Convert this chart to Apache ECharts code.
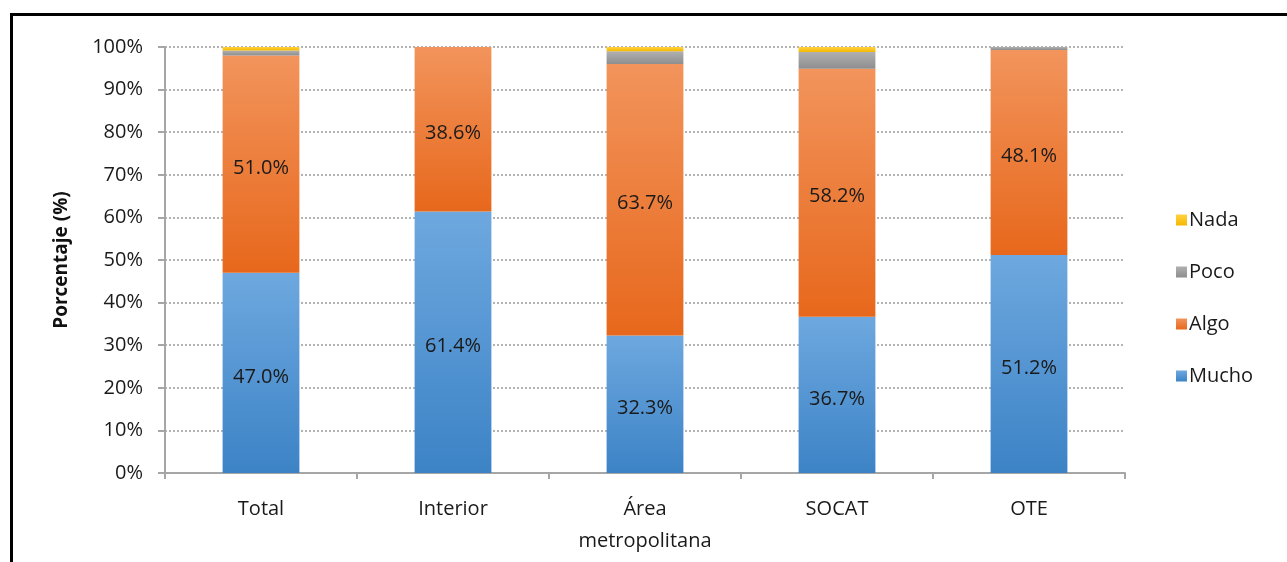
<!DOCTYPE html>
<html>
<head>
<meta charset="UTF-8">
<title>Porcentaje</title>
<script src="https://cdn.jsdelivr.net/npm/echarts@6/dist/echarts.min.js"></script>
<style>
	html, body { margin: 0; padding: 0; background: #fff; }
	#frame {
		position: absolute; left: 10px; top: 13px; width: 1277px; height: 549px;
		border-left: 3px solid #000; border-top: 3px solid #000;
	}
	#main { position: absolute; left: 0; top: 0; width: 1287px; height: 562px; }
</style>
</head>
<body>
<div id="frame"></div>
<div id="main"></div>
<script>
	var categories = ['Total', 'Interior', 'Área\nmetropolitana', 'SOCAT', 'OTE'];
	var mucho = [47.0, 61.4, 32.3, 36.7, 51.2];
	var algo = [51.0, 38.6, 63.7, 58.2, 48.1];
	var poco = [1.2, 0, 3.0, 3.9, 0.7];
	var nada = [0.8, 0, 1.0, 1.2, 0];
	var yTicks = ['0%', '10%', '20%', '30%', '40%', '50%', '60%', '70%', '80%', '90%', '100%'];

	var font = '"Open Sans", "Liberation Sans", sans-serif';
	var fs = 20;

	function grad(top, bottom) {
		return new echarts.graphic.LinearGradient(0, 0, 0, 1, [
			{ offset: 0, color: top },
			{ offset: 1, color: bottom }
		]);
	}

	function makeSeries(name, data, colorTop, colorBottom, showLabel) {
		return {
			name: name,
			type: 'bar',
			stack: 'total',
			barWidth: '40%',
			data: data,
			itemStyle: { color: grad(colorTop, colorBottom) },
			label: {
				show: showLabel,
				position: 'inside',
				offset: [0, 4],
				color: '#1a1a1a',
				fontSize: fs,
				fontFamily: font,
				formatter: function(p) { return p.value.toFixed(1) + '%'; }
			}
		};
	}

	var chart = echarts.init(document.getElementById('main'));
	chart.setOption({
		animation: false,
		textStyle: { fontFamily: font },
		grid: { left: 165, right: 162, top: 47, bottom: 89 },
		legend: {
			orient: 'vertical',
			left: 1171,
			top: 205,
			itemWidth: 11,
			itemHeight: 11,
			itemGap: 32,
			icon: 'rect',
			data: ['Nada', 'Poco', 'Algo', 'Mucho'],
			textStyle: { fontSize: fs, lineHeight: 20, color: '#1a1a1a', fontFamily: font, padding: [0, 0, 0, -3] }
		},
		xAxis: {
			type: 'category',
			data: categories,
			axisLine: { lineStyle: { color: '#a6a6a6', width: 2 } },
			axisTick: { show: true, length: 6, lineStyle: { color: '#a6a6a6', width: 2 } },
			axisLabel: { fontSize: fs, color: '#1a1a1a', margin: 20, lineHeight: 32, fontFamily: font }
		},
		yAxis: {
			type: 'value',
			min: 0,
			max: 100,
			interval: 10,
			name: 'Porcentaje (%)',
			nameLocation: 'middle',
			nameGap: 94,
			nameTextStyle: { fontSize: 19, fontWeight: 'bold', color: '#111', fontFamily: font },
			axisLine: { show: true, lineStyle: { color: '#a6a6a6', width: 2 } },
			axisTick: { show: true, length: 7, inside: false, lineStyle: { color: '#a6a6a6', width: 2 } },
			axisLabel: {
				fontSize: fs, color: '#1a1a1a', margin: 22, fontFamily: font,
				formatter: function(v) { return yTicks[Math.round(v / 10)]; }
			},
			splitLine: { lineStyle: { color: '#9a9a9a', type: [2, 2], width: 1.5 } }
		},
		series: [
			makeSeries('Mucho', mucho, '#6ea8df', '#3c83c6', true),
			makeSeries('Algo', algo, '#f2945c', '#e7681c', true),
			makeSeries('Poco', poco, '#b0b0b0', '#8e8e8e', false),
			makeSeries('Nada', nada, '#ffd23f', '#f5b800', false)
		]
	});
</script>
</body>
</html>
